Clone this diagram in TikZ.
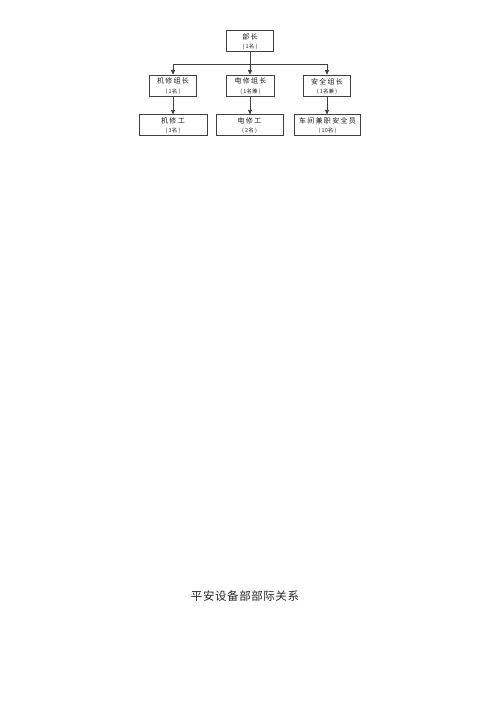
\documentclass[tikz,border=0pt]{standalone}
\usepackage{fontspec}
\newfontfamily\cjk{Noto Sans CJK SC}
\newfontfamily\cjksp[LetterSpace=18]{Noto Sans CJK SC}
\usetikzlibrary{arrows.meta}
\tikzset{
  orgbox/.style={draw=black!75, line width=0.7pt, inner sep=0pt},
  mainlbl/.style={inner sep=0pt, text=black!90, font=\cjksp\fontsize{7}{8}\selectfont},
  sublbl/.style={inner sep=0pt, text=black!85, font=\cjk\fontsize{5.5}{6}\selectfont},
  link/.style={draw=black!75, line width=0.7pt},
  arr/.style={link, -{Triangle[length=4.5pt,width=4pt]}},
}
\begin{document}
\begin{tikzpicture}[x=1pt,y=-1pt]
\useasboundingbox (0,0) rectangle (500,707);
% top box
\node[orgbox, minimum width=47pt, minimum height=21pt] (b0) at (250,40.5) {};
\node[mainlbl] (t0) at (250,36.5) {部长};
\node[sublbl] (s0) at (250,46.5) {( 1名 )};
% middle row
\node[orgbox, minimum width=47pt, minimum height=21pt] (b1) at (173,85.5) {};
\node[mainlbl] (t1) at (173,81.3) {机修组长};
\node[sublbl] (s1) at (173,91.8) {( 1名 )};
\node[orgbox, minimum width=48pt, minimum height=21pt] (b2) at (250.5,85.5) {};
\node[mainlbl] (t2) at (250.5,81.3) {电修组长};
\node[sublbl] (s2) at (250.5,91.8) {( 1名兼 )};
\node[orgbox, minimum width=47pt, minimum height=21pt] (b3) at (327,85.5) {};
\node[mainlbl] (t3) at (327,81.3) {安全组长};
\node[sublbl] (s3) at (327,91.8) {( 1名兼 )};
% bottom row
\node[orgbox, minimum width=68pt, minimum height=20.5pt] (c1) at (173,125) {};
\node[mainlbl] (u1) at (173,121) {机修工};
\node[sublbl] (v1) at (173,131) {( 3名 )};
\node[orgbox, minimum width=67pt, minimum height=20.5pt] (c2) at (249.5,125) {};
\node[mainlbl] (u2) at (249.5,121) {电修工};
\node[sublbl] (v2) at (249.5,131) {( 2名 )};
\node[orgbox, minimum width=66pt, minimum height=20.5pt] (c3) at (327.5,125) {};
\node[mainlbl] (u3) at (327.5,121) {车间兼职安全员};
\node[sublbl] (v3) at (327.5,131) {( 10名 )};
% connectors
\coordinate (hl) at (173,64);
\coordinate (hr) at (327,64);
\coordinate (hm) at (250,64);
\draw[link] (hl) -- (hr);
\draw[link] (b0.south) -- (hm);
\draw[arr] (hm) -- (hm |- b2.north);
\draw[arr] (hl) -- (b1.north);
\draw[arr] (hr) -- (b3.north);
\draw[arr] (b1.south) -- (c1.north);
\draw[arr] (hm |- b2.south) -- (hm |- c2.north);
\draw[arr] (b3.south) -- (b3.south |- c3.north);
% caption
\node[inner sep=0pt, text=black!85, font=\cjk\fontsize{11.5}{12}\selectfont] (cap) at (245,596) {\addfontfeatures{LetterSpace=5}平安设备部部际关系};
\end{tikzpicture}
\end{document}
